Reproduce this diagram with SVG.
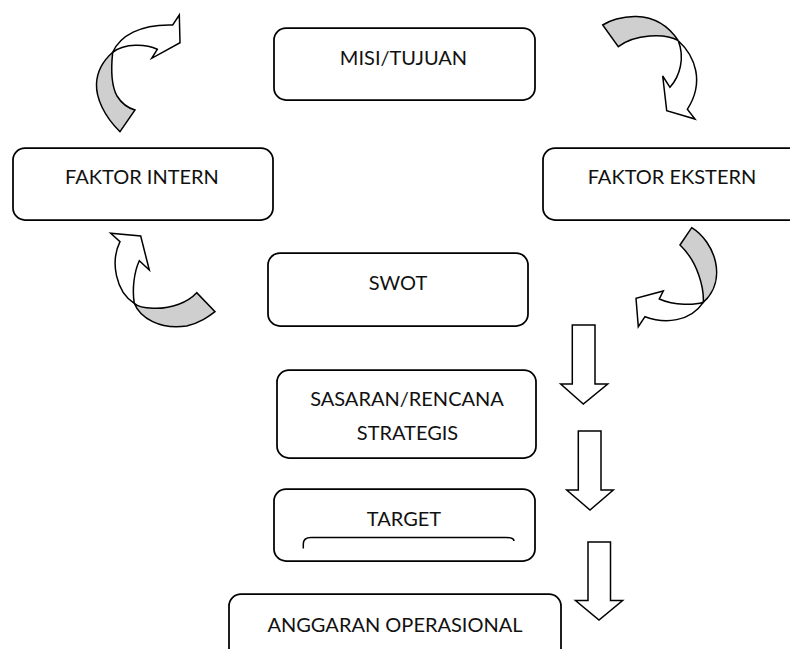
<svg xmlns="http://www.w3.org/2000/svg" width="790" height="649" viewBox="0 0 790 649">
<style>
.box{fill:#fff;stroke:#000;stroke-width:1.75}
.lbl{font-family:Lato,"Open Sans","Liberation Sans",sans-serif;font-size:20px;fill:#111;text-anchor:middle}
.arr{fill:#fff;stroke:#000;stroke-width:1.5;stroke-linejoin:miter}
.back{fill:#cfcfcf;stroke:#000;stroke-width:1.5;stroke-linejoin:miter}
</style>
<rect width="790" height="649" fill="#fff"/>
<g id="misi"><rect class="box" x="274" y="28" width="261" height="72" rx="12"/><text class="lbl" x="403.5" y="65">MISI/TUJUAN</text></g>
<g id="faktor-intern"><rect class="box" x="13" y="148" width="260" height="72" rx="12"/><text class="lbl" x="142" y="184">FAKTOR INTERN</text></g>
<g id="faktor-ekstern"><rect class="box" x="543" y="148" width="260" height="72" rx="12"/><text class="lbl" x="672" y="184">FAKTOR EKSTERN</text></g>
<g id="swot"><rect class="box" x="268" y="253" width="260" height="73" rx="12"/><text class="lbl" x="398" y="290">SWOT</text></g>
<g id="sasaran"><rect class="box" x="277" y="370" width="259" height="88" rx="12"/><text class="lbl" x="407" y="406">SASARAN/RENCANA</text><text class="lbl" x="407.5" y="440">STRATEGIS</text></g>
<g id="target"><rect class="box" x="274" y="489" width="261" height="72" rx="12"/><text class="lbl" x="404" y="526">TARGET</text><path d="M303.3,548.5 L303.3,544 Q303.3,537.4 311,537.4 L506,537.4 Q514,537.4 514,541" fill="none" stroke="#000" stroke-width="1.5"/></g>
<g id="anggaran"><rect class="box" x="229" y="594" width="332" height="70" rx="12"/><text class="lbl" x="395" y="632">ANGGARAN OPERASIONAL</text></g>
<g id="connectors">
<g id="curve-top-left">
<path class="back" d="M120,131.7 C104,116 96,98 96.5,84 C97,70 104,60 112.7,52.3 C111,68 111,85 117,96 C122,104 128,108 135,110 Z"/>
<path class="arr" d="M112.7,52.3 C120,36 140,24 172.7,25 L179.3,15 L180,42.7 L151.7,58.3 L157.3,49.3 C146,44 125,43 112.7,52.3 Z"/>
</g>
<g id="curve-top-right">
<path class="back" d="M602.7,25 C615,17 655,5 678.3,40.7 C665,33 635,34 618.3,46.7 Z"/>
<path class="arr" d="M678.3,40.7 C695,56 705,82 687.3,109.3 L695,119 L666.7,110.7 L662.7,76 L670,87.3 C680,76 685,58 678.3,40.7 Z"/>
</g>
<g id="curve-bottom-left">
<path class="back" d="M134.3,303.3 C140,318 160,330 186.7,326 C200,323 208,317 215,311.7 L196.7,292.7 C188,302 172,309 153,308.3 C143,308 137,306 134.3,303.3 Z"/>
<path class="arr" d="M134.3,303.3 C116,292 110,262 120,241.7 L110.7,233.3 L140.7,236 L149.3,270 L139.3,260.7 C134,272 132,290 134.3,303.3 Z"/>
</g>
<g id="curve-bottom-right">
<path class="back" d="M691.7,227.7 C715,242 728,280 703.3,302.3 C704,288 698,262 680,245 Z"/>
<path class="arr" d="M703.3,302.3 C695,305 675,306 659.3,299 L663.3,291 L636,298.3 L638.3,326.7 L645,316.7 C665,324 690,322 703.3,302.3 Z"/>
</g>
<path id="down-1" class="arr" d="M572.3,325 L595,325 L595,384 L607.7,384 L583.3,404 L560.7,384 L572.3,384 Z"/>
<path id="down-2" class="arr" d="M578.3,431 L601,431 L601,490 L613.3,490 L590,510 L566.7,490 L578.3,490 Z"/>
<path id="down-3" class="arr" d="M588,542 L610.5,542 L610.5,600.6 L622.6,600.6 L599,620 L575.5,600.6 L588,600.6 Z"/>
</g>
</svg>
